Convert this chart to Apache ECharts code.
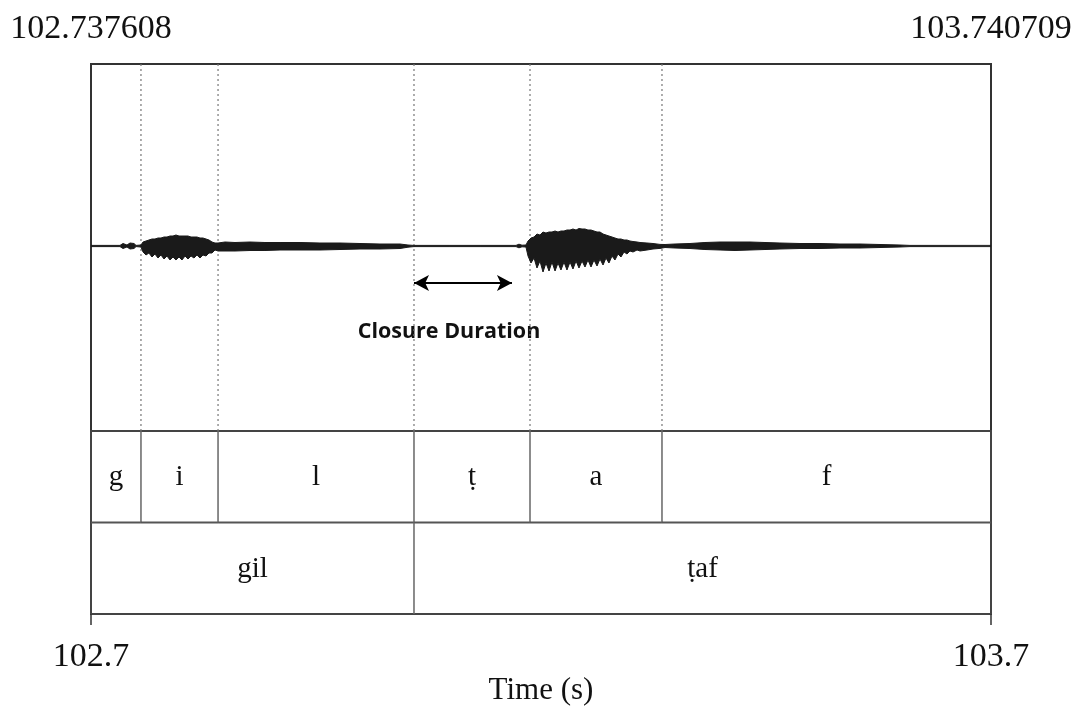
<!DOCTYPE html>
<html>
<head>
<meta charset="utf-8">
<script src="https://cdn.jsdelivr.net/npm/echarts@6/dist/echarts.min.js"></script>
<style>
html,body{margin:0;padding:0;background:#fff;}
#chart{width:1076px;height:708px;}
</style>
</head>
<body>
<div id="chart"></div>
<script>
// ---- data ----
const T_START = 102.737608;
const T_END = 103.740709;
const topTickLabels = ['102.737608', '103.740709'];
const bottomTickLabels = ['102.7', '103.7'];
const axisTitle = 'Time (s)';

// waveform amplitude envelope (arbitrary units)
const waveTime = [102.7376, 102.7699, 102.7733, 102.7777, 102.7811, 102.7855, 102.7878,
  102.7933, 102.7956, 102.7989, 102.8022, 102.8056, 102.8089, 102.8123, 102.8156, 102.8190, 102.8223,
  102.8257, 102.8290, 102.8323, 102.8357, 102.8390, 102.8424, 102.8457, 102.8491, 102.8524, 102.8557,
  102.8591, 102.8624, 102.8658, 102.8691, 102.8725, 102.8758, 102.8792,
  102.8870, 102.8981, 102.9148, 102.9315, 102.9483, 102.9706, 102.9928, 103.0151,
  103.0374, 103.0597, 103.0820, 103.0909, 103.0976, 103.1377, 103.1712, 103.2113, 103.2146, 103.2180,
  103.2224,
  103.2247, 103.2280, 103.2314, 103.2347, 103.2380, 103.2414, 103.2447, 103.2481, 103.2514, 103.2548,
  103.2581, 103.2614, 103.2648, 103.2681, 103.2715, 103.2748, 103.2782, 103.2815, 103.2849, 103.2882,
  103.2915, 103.2949, 103.2982, 103.3016, 103.3049, 103.3083, 103.3116, 103.3149, 103.3183, 103.3216,
  103.3250, 103.3283, 103.3317, 103.3350, 103.3383, 103.3417, 103.3462, 103.3495,
  103.3573, 103.3640, 103.3718, 103.3774, 103.3885, 103.4052, 103.4219, 103.4387, 103.4554, 103.4721,
  103.4888, 103.5055, 103.5278, 103.5501, 103.5724, 103.5947, 103.6170, 103.6393, 103.6504, 103.7407];
const waveUpper = [0.6, 0.6, 2.5, 1.0, 3.0, 2.5, 0.6,
  1, 4, 5, 6, 7, 7, 8, 8, 9, 9,
  10, 10, 11, 10, 10, 10, 10, 9, 9, 9,
  8, 8, 7, 6, 4, 3, 3,
  4, 3.5, 4, 3.5, 3.5, 3.5, 3, 3,
  2.5, 2, 2, 1, 0.6, 0.6, 0.6, 0.6, 1.8, 0.8,
  1,
  5, 8, 9, 12, 11, 14, 13, 14, 14, 15,
  14, 15, 15, 16, 16, 17, 16, 17.5, 17, 17,
  16, 16, 15, 14, 14, 12, 11, 10, 9, 8,
  7, 7, 6, 6, 5, 4.5, 4, 3.5,
  3, 2.5, 1.6, 1.5, 2, 2.5, 3.5, 4, 4, 4,
  3.5, 3, 2.5, 2.5, 2, 2, 1.5, 1, 0.6, 0.6];
const waveLower = [-0.6, -0.6, -2.5, -1.0, -3.0, -2.5, -0.6,
  -1, -6, -9, -7, -11, -8, -12, -9, -13, -10,
  -14, -11, -14, -11, -14, -10, -13, -10, -12, -9,
  -12, -9, -10, -7, -7, -4, -5,
  -5, -5, -4.5, -4.5, -4, -4, -4, -3.5,
  -3, -3, -2.5, -1.2, -0.6, -0.6, -0.6, -0.6, -1.8, -0.8,
  -1,
  -10, -17, -12, -22, -15, -26, -17, -25, -16, -25,
  -17, -24, -16, -24, -16, -23, -15, -22, -15, -21,
  -14, -21, -14, -20, -13, -19, -12, -17, -10, -14,
  -8, -11, -6, -8, -5, -6, -4, -5,
  -4, -3, -2.4, -1.5, -2, -2.5, -3.5, -4, -4.5, -4,
  -3.5, -3, -2.5, -2.5, -2, -2, -1.5, -1, -0.6, -0.6];

// annotation tiers
const phoneLabels = ['g', 'i', 'l', '\u1E6D', 'a', 'f'];
const phoneBounds = [102.737608, 102.7933, 102.8792, 103.0976, 103.2269, 103.3740, 103.740709];
const wordLabels = ['gil', '\u1E6Daf'];
const wordBounds = [102.737608, 103.0976, 103.740709];

// closure duration arrow
const closureStart = 103.0976;
const closureEnd = 103.2068;
const closureLevel = -37;
const closureText = 'Closure Duration';

// ---- build ----
const upperData = waveTime.map((t, i) => [t, waveUpper[i]]);
const lowerData = waveTime.map((t, i) => [t, waveLower[i]]);

const tierData = [];
const tierLabels = [];
for (let i = 0; i < phoneLabels.length; i++) {
  tierData.push([phoneBounds[i], phoneBounds[i + 1], 1]);
  tierLabels.push(phoneLabels[i]);
}
for (let i = 0; i < wordLabels.length; i++) {
  tierData.push([wordBounds[i], wordBounds[i + 1], 0]);
  tierLabels.push(wordLabels[i]);
}

const serif = 'Liberation Serif, Times New Roman, DejaVu Serif, serif';

function tickFormatter(labels) {
  return function (v) {
    return Math.abs(v - T_START) < 1e-6 ? labels[0] : labels[1];
  };
}

function renderTier(params, api) {
  const s = api.value(0), e = api.value(1), tier = api.value(2);
  const pTop = api.coord([s, tier + 1]);
  const pBot = api.coord([e, tier]);
  const children = [];
  if (s > T_START + 1e-6) {
    children.push({
      type: 'line',
      shape: { x1: pTop[0], y1: pTop[1], x2: pTop[0], y2: pBot[1] },
      style: { stroke: '#666', lineWidth: 1.5 }
    });
  }
  if (tier === 1) {
    children.push({
      type: 'line',
      shape: { x1: pTop[0], y1: pBot[1], x2: pBot[0], y2: pBot[1] },
      style: { stroke: '#555', lineWidth: 1.8 }
    });
  }
  children.push({
    type: 'text',
    style: {
      x: (pTop[0] + pBot[0]) / 2,
      y: (pTop[1] + pBot[1]) / 2 + 1,
      text: tierLabels[params.dataIndex],
      textAlign: 'center',
      textVerticalAlign: 'middle',
      fontFamily: serif,
      fontSize: 29,
      fill: '#111'
    }
  });
  return { type: 'group', children: children };
}

function renderBoundary(params, api) {
  const pTop = api.coord([api.value(0), 182]);
  const pBot = api.coord([api.value(0), -185]);
  return {
    type: 'line',
    shape: { x1: pTop[0], y1: pTop[1], x2: pBot[0], y2: pBot[1] },
    style: { stroke: '#777', lineWidth: 1.2, lineDash: [2, 3] }
  };
}

const chart = echarts.init(document.getElementById('chart'), null, { renderer: 'canvas' });
chart.setOption({
  animation: false,
  backgroundColor: '#fff',
  grid: [
    { left: 91, width: 900, top: 64, height: 367, show: true, borderColor: '#333', borderWidth: 2, outerBoundsMode: 'none' },
    { left: 91, width: 900, top: 431, height: 183, show: true, borderColor: '#444', borderWidth: 2, outerBoundsMode: 'none' }
  ],
  xAxis: [
    {
      gridIndex: 0, type: 'value', position: 'top', min: T_START, max: T_END,
      axisLine: { show: false }, splitLine: { show: false },
      axisTick: { show: true, customValues: [T_START, T_END], length: 11, lineStyle: { color: '#333', width: 1.5 } },
      axisLabel: { customValues: [T_START, T_END], formatter: tickFormatter(topTickLabels), fontFamily: serif, fontSize: 34, color: '#111', margin: 18 }
    },
    {
      gridIndex: 1, type: 'value', position: 'bottom', min: T_START, max: T_END,
      axisLine: { show: false }, splitLine: { show: false },
      axisTick: { show: true, customValues: [T_START, T_END], length: 11, lineStyle: { color: '#333', width: 1.5 } },
      axisLabel: { customValues: [T_START, T_END], formatter: tickFormatter(bottomTickLabels), fontFamily: serif, fontSize: 34, color: '#111', margin: 26 },
      name: axisTitle, nameLocation: 'middle', nameGap: 60,
      nameTextStyle: { fontFamily: serif, fontSize: 31, color: '#111' }
    }
  ],
  yAxis: [
    { gridIndex: 0, type: 'value', min: -185, max: 182, show: false },
    { gridIndex: 1, type: 'value', min: 0, max: 2, show: false }
  ],
  series: [
    {
      type: 'custom', xAxisIndex: 0, yAxisIndex: 0,
      data: phoneBounds.slice(1, -1).map(v => [v]),
      renderItem: renderBoundary, silent: true, encode: { x: 0 }, z: 1
    },
    {
      type: 'line', xAxisIndex: 0, yAxisIndex: 0, data: upperData, z: 2,
      symbol: 'none', lineStyle: { color: '#1a1a1a', width: 1 },
      areaStyle: { color: '#1a1a1a', opacity: 1 }, silent: true,
      markLine: {
        silent: true, precision: 6, symbol: ['arrow', 'arrow'], symbolSize: [12, 15],
        label: { show: false },
        lineStyle: { color: '#000', width: 2, type: 'solid' },
        data: [[{ coord: [closureStart, closureLevel] }, { coord: [closureEnd, closureLevel] }]]
      }
    },
    {
      type: 'line', xAxisIndex: 0, yAxisIndex: 0, data: lowerData, z: 2,
      symbol: 'none', lineStyle: { color: '#1a1a1a', width: 1 },
      areaStyle: { color: '#1a1a1a', opacity: 1 }, silent: true
    },
    {
      type: 'custom', xAxisIndex: 1, yAxisIndex: 1, data: tierData,
      renderItem: renderTier, silent: true,
      encode: { x: [0, 1], y: 2 }
    }
  ],
  graphic: [
    {
      type: 'text', x: 449, y: 332,
      style: { text: closureText, textAlign: 'center', textVerticalAlign: 'middle', fontFamily: 'Open Sans, Lato, sans-serif', fontWeight: 'bold', fontSize: 21.5, fill: '#111' }
    }
  ]
});
</script>
</body>
</html>
